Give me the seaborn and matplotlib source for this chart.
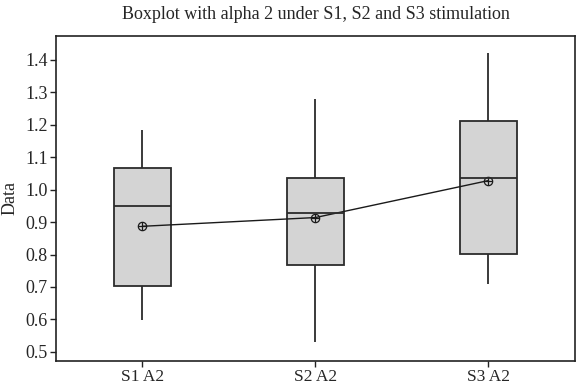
import matplotlib
matplotlib.use("Agg")
import matplotlib.pyplot as plt
import pandas as pd
import seaborn as sns

# five-number summaries: low whisker, Q1, median, Q3, high whisker
groups = ["S1 A2", "S2 A2", "S3 A2"]
s1_a2 = [0.598, 0.702, 0.950, 1.067, 1.184]
s2_a2 = [0.529, 0.768, 0.929, 1.037, 1.279]
s3_a2 = [0.710, 0.802, 1.035, 1.211, 1.420]
means = [0.887, 0.914, 1.028]

yticks = [0.5, 0.6, 0.7, 0.8, 0.9, 1.0, 1.1, 1.2, 1.3, 1.4]

df = pd.DataFrame({
    "group": [groups[0]] * 5 + [groups[1]] * 5 + [groups[2]] * 5,
    "Data": s1_a2 + s2_a2 + s3_a2,
})

sns.set_style("white")
plt.rcParams["font.family"] = ["Liberation Serif", "DejaVu Serif"]
plt.rcParams["font.size"] = 13

fig = plt.figure(figsize=(5.77, 3.86), dpi=100)
ax = fig.add_axes([0.097, 0.065, 0.8995, 0.842])

edge = "#2b2b2b"
sns.boxplot(
    data=df, x="group", y="Data", order=groups, ax=ax,
    whis=(0, 100), width=0.33, color="#d4d4d4", saturation=1,
    showcaps=False, showfliers=False,
    boxprops=dict(edgecolor=edge, linewidth=1.3),
    medianprops=dict(color=edge, linewidth=1.3),
    whiskerprops=dict(color=edge, linewidth=1.3),
)

# mean line with circle-plus markers
sns.pointplot(x=groups, y=means, order=groups, ax=ax, color="#1a1a1a",
              markers="o", linestyles="-", linewidth=1.0, markersize=6,
              markerfacecolor="none", markeredgewidth=0.9, errorbar=None)
sns.pointplot(x=groups, y=means, order=groups, ax=ax, color="#1a1a1a",
              markers="+", linestyles="none", markersize=6,
              markeredgewidth=0.9, errorbar=None)

ax.set_xlim(-0.5, 2.5)
ax.set_ylim(0.472, 1.474)
ax.set_yticks(yticks)
ax.set_yticklabels([f"{v:.1f}" for v in yticks])
ax.set_xlabel("")
ax.set_ylabel("Data", fontsize=13, labelpad=5)
ax.set_title("Boxplot with alpha 2 under S1, S2 and S3 stimulation",
             fontsize=13, pad=12)

for s in ax.spines.values():
    s.set_color("#222222")
    s.set_linewidth(1.2)
ax.tick_params(axis="y", labelsize=13)
ax.tick_params(axis="x", labelsize=12.5)
ax.tick_params(axis="both", which="both", direction="out", length=4,
               width=1.0, color="#222222", pad=2, left=True, bottom=True)

fig.savefig("out.png", dpi=100)
